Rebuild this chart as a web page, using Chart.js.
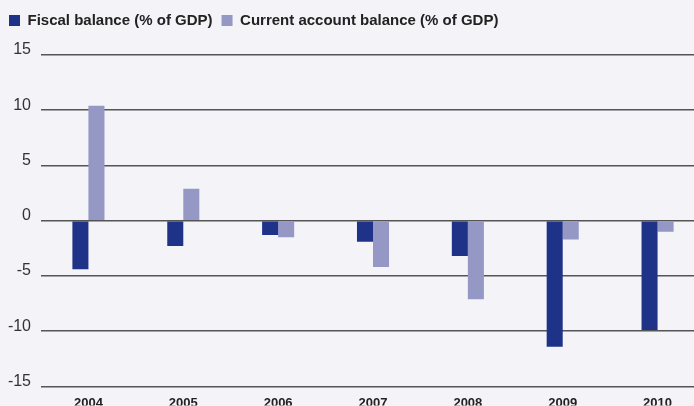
<!DOCTYPE html>
<html>
<head>
<meta charset="utf-8">
<script src="https://cdn.jsdelivr.net/npm/chart.js@4"></script>
<style>
  html, body { margin: 0; padding: 0; background: #f3f3f8; overflow: hidden; }
  canvas { display: block; }
</style>
</head>
<body>
<canvas id="myChart" width="705" height="406"></canvas>
<script>
const years = ['2004', '2005', '2006', '2007', '2008', '2009', '2010'];
const fiscalBalance = [-4.4, -2.3, -1.3, -1.9, -3.2, -11.4, -9.9];
const currentAccount = [10.4, 2.9, -1.5, -4.2, -7.1, -1.7, -1.0];
const yTicks = [-15, -10, -5, 0, 5, 10, 15];

Chart.defaults.font.family = '"Liberation Sans", Arial, sans-serif';
Chart.defaults.color = '#222';

// push the plot area down below the legend
const legendSpacer = {
  id: 'legendSpacer',
  beforeInit(chart) {
    const origFit = chart.legend.fit;
    chart.legend.fit = function () {
      origFit.bind(chart.legend)();
      this.height += 17;
    };
  }
};

const ctx = document.getElementById('myChart').getContext('2d');

const chart = new Chart(ctx, {
  type: 'bar',
  data: {
    labels: years,
    datasets: [{
      label: 'Fiscal balance (% of GDP)',
      data: fiscalBalance,
      backgroundColor: '#1e3388'
    }, {
      label: 'Current account balance (% of GDP)',
      data: currentAccount,
      backgroundColor: '#9597c5'
    }]
  },
  options: {
    responsive: false,
    animation: false,
    layout: { padding: { top: 4, left: 0, right: 0, bottom: 0 } },
    datasets: {
      bar: { categoryPercentage: 0.338, barPercentage: 1 }
    },
    plugins: {
      tooltip: { enabled: false },
      legend: {
        position: 'top',
        align: 'start',
        labels: {
          boxWidth: 11,
          boxHeight: 11,
          padding: 9,
          color: '#222',
          font: { size: 15, weight: 'bold' }
        }
      }
    },
    scales: {
      x: {
        grid: { display: false },
        border: { display: false },
        ticks: {
          padding: 1,
          color: '#222',
          font: { size: 13, weight: 'bold' }
        },
        afterFit: (axis) => { axis.height = 19; }
      },
      y: {
        min: -15,
        max: 15,
        afterBuildTicks: (axis) => { axis.ticks = yTicks.map(v => ({ value: v })); },
        grid: { color: '#555', lineWidth: 1.5, drawTicks: false },
        border: { display: false },
        ticks: {
          padding: 10,
          labelOffset: -5,
          color: '#333',
          font: { size: 16 }
        },
        afterFit: (axis) => { axis.width = 41; }
      }
    }
  },
  plugins: [legendSpacer]
});
</script>
</body>
</html>
